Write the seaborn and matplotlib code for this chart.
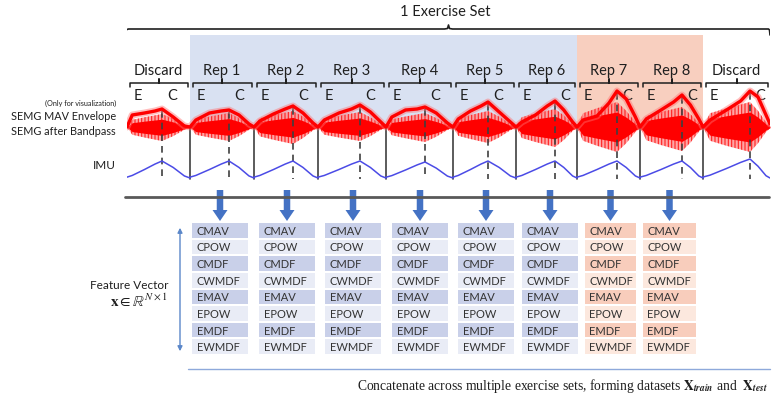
import numpy as np
import matplotlib
matplotlib.use('Agg')
import matplotlib.pyplot as plt
from matplotlib.colors import ListedColormap
import seaborn as sns

sns.set_theme(style='white')
plt.rcParams['font.family'] = ['Lato', 'DejaVu Sans']
plt.rcParams['mathtext.fontset'] = 'stix'
plt.rcParams['hatch.linewidth'] = 0.8

# ---- values ----
segments = ['Discard', 'Rep 1', 'Rep 2', 'Rep 3', 'Rep 4', 'Rep 5', 'Rep 6', 'Rep 7', 'Rep 8', 'Discard']
seg_dur = [6.3, 6.4, 6.4, 6.8, 6.7, 6.3, 6.1, 6.3, 6.3, 6.7]   # rep length
ecc_dur = [3.5, 3.9, 3.9, 4.2, 3.9, 3.5, 3.9, 4.0, 4.2, 4.7]   # time until E -> C switch

# MAV envelope at: start, 15/50/80% of E, C, 40/80% of C, end
env_vals = [
    [0, 12, 14, 16, 18, 10, 1, 0],
    [0, 7, 14, 16, 17, 12, 3, 0],
    [0, 6, 13, 18, 21, 14, 4, 0],
    [0, 7, 14, 18, 22, 15, 5, 0],
    [0, 10, 17, 18, 20, 14, 4, 0],
    [0, 8, 16, 21, 25, 15, 5, 0],
    [0, 5, 12, 21, 26, 17, 5, 0],
    [0, 7, 11, 24, 36, 28, 10, 0],
    [0, 8, 17, 25, 32, 22, 8, 0],
    [0, 7, 17, 26, 36, 30, 12, 3],
]
# bandpassed sEMG burst size (above / below rest line)
burst_up = [13, 14, 16, 15, 14, 16, 18, 25, 20, 25]
burst_down = [14, 14, 17, 14, 15, 16, 20, 25, 24, 25]
burst_shape = [0, 0.55, 0.75, 0.9, 1.0, 0.65, 0.2, 0.05]
# IMU angle
imu_peak = [17, 17, 17, 17, 16, 17, 17, 17, 17, 19]
imu_shape = [0.05, 0.15, 0.5, 0.82, 1.0, 0.62, 0.12, 0.0]

features = ['CMAV', 'CPOW', 'CMDF', 'CWMDF', 'EMAV', 'EPOW', 'EMDF', 'EWMDF']
rep_fatigued = [0, 0, 0, 0, 0, 0, 1, 1]

# ---- layout ----
W, H = 774, 402
fig = plt.figure(figsize=(W / 100, H / 100), dpi=100)
ax = fig.add_axes([0, 0, 1, 1])
ax.set_xlim(0, W)
ax.set_ylim(H, 0)
ax.axis('off')

sig_x0, sig_x1 = 127, 770
sax = fig.add_axes([sig_x0 / W, 0, (sig_x1 - sig_x0) / W, 1])
total = sum(seg_dur)
sax.set_xlim(0, total)
sax.set_ylim(H, 0)
sax.axis('off')
sax.patch.set_alpha(0)

starts = np.concatenate([[0], np.cumsum(seg_dur)[:-1]])
ends = np.cumsum(seg_dur)
c_pos = starts + np.array(ecc_dur)

emg_base, imu_base = 128, 179
txt = '#1f1f1f'

# knot times inside every rep
knot_t = []
for s, e, d in zip(starts, ecc_dur, seg_dur):
    c = d - e
    knot_t.append([s, s + .15 * e, s + .5 * e, s + .8 * e, s + e,
                   s + e + .4 * c, s + e + .8 * c, s + d])
knot_t = np.array(knot_t)

# shaded sample groups
sax.fill_between([starts[1], ends[6]], 36, emg_base, color='#D9E1F2', lw=0, zorder=0)
sax.fill_between([starts[7], ends[8]], 36, emg_base, color='#F8CFBF', lw=0, zorder=0)

# big brace
mid = total / 2
bx = [-0.3, -0.15, 0.15, mid - 0.4, mid - 0.1, mid, mid + 0.1, mid + 0.4, total - 0.15, total - 0.05, total]
by = [36, 31, 30, 30, 29.5, 26, 29.5, 30, 30, 31, 36]
sax.plot(bx, by, color=txt, lw=1.2)
ax.text(445, 12, '1 Exercise Set', ha='center', va='center', fontsize=10.5, color=txt)

# group titles (underlined)
t1 = ax.text(378, 49, 'Non-Fatigued Samples', ha='center', va='center', fontsize=10.5, color=txt)
t2 = ax.text(640, 49, 'Fatigued Samples', ha='center', va='center', fontsize=10.5, color=txt)

# rep brackets and labels
for i, name in enumerate(segments):
    x0, x1 = starts[i] + 0.25, ends[i] - 0.25
    xm = (starts[i] + ends[i]) / 2
    sax.plot([x0, x0, xm, xm, xm, x1, x1], [88, 84, 84, 80, 84, 84, 88], color=txt, lw=1.1)
    sax.text(xm, 71, name, ha='center', va='center', fontsize=10.5, color=txt)
    sax.text(starts[i] + 1.1, 96, 'E', ha='center', va='center', fontsize=10.5, color=txt)
    sax.text(c_pos[i] + 1.0, 96, 'C', ha='center', va='center', fontsize=10.5, color=txt)

# rest line of the sEMG
sns.lineplot(x=[0, total], y=[emg_base, emg_base], ax=sax, color='red', lw=1, zorder=2)

# bandpassed sEMG bursts: faint hatched outer band, solid core
for i in range(len(segments)):
    shp = np.array(burst_shape)
    sax.fill_between(knot_t[i], emg_base - burst_up[i] * shp, emg_base + burst_down[i] * shp,
                     facecolor='#FF9090', edgecolor='#FF0000', hatch='|||||', alpha=0.8, lw=0, zorder=2)
    sax.fill_between(knot_t[i], emg_base - 0.6 * burst_up[i] * shp, emg_base + 0.6 * burst_down[i] * shp,
                     color='#FF0000', lw=0, zorder=2)

# rep boundaries and E/C switch
for b in ends[:-1]:
    sax.plot([b, b], [emg_base + 1, imu_base + 1], color='#404040', lw=1.2, zorder=3)
for i, c in enumerate(c_pos):
    top = emg_base - env_vals[i][4] + 2
    sax.plot([c, c], [top, imu_base + 1], color='#404040', lw=1.2, ls=(0, (4, 3)), zorder=3)

# MAV envelope
env_x = knot_t.ravel()
env_y = emg_base - np.array(env_vals).ravel()
sns.lineplot(x=env_x, y=env_y, ax=sax, sort=False, estimator=None, color='#FF7070', lw=5, alpha=0.45, zorder=4)
sns.lineplot(x=env_x, y=env_y, ax=sax, sort=False, estimator=None, color='#FF0000', lw=2.4, zorder=5)

# IMU
imu_y = (imu_base - np.array(imu_peak)[:, None] * np.array(imu_shape)[None, :]).ravel()
sns.lineplot(x=env_x, y=imu_y, ax=sax, sort=False, estimator=None, color='#4B4BE6', lw=1.1, zorder=4)

# left labels
ax.text(116, 103, '(Only for visualization)', ha='right', va='center', fontsize=5.2, color=txt)
ax.text(116, 116, 'SEMG MAV Envelope', ha='right', va='center', fontsize=7.8, color=txt)
ax.text(116, 132, 'SEMG after Bandpass', ha='right', va='center', fontsize=7.8, color=txt)
ax.text(116, 166, 'IMU', ha='right', va='center', fontsize=8.5, color=txt)

# divider and arrows
ax.plot([125, 769], [198, 198], color='#595959', lw=2, zorder=3)
col_left = [191, 258, 324, 391, 457, 521, 584, 642]
col_w = [58, 58, 58, 58, 58, 58, 53, 55]
tab_top, tab_h = 223, 133
for xl, w in zip(col_left, col_w):
    ax.arrow(xl + w / 2, 191, 0, 31, width=6.5, head_width=15, head_length=11,
             length_includes_head=True, color='#4472C4', lw=0, zorder=2)

# feature table, one heatmap per rep
cmap = ListedColormap(['#C9D0E9', '#E9ECF6', '#F8CDBC', '#FCE8DE'])
labels = np.array(features).reshape(-1, 1)
for j, (xl, w) in enumerate(zip(col_left, col_w)):
    vals = np.array([[2 * rep_fatigued[j] + r % 2] for r in range(len(features))])
    cax = fig.add_axes([xl / W, 1 - (tab_top + tab_h) / H, w / W, tab_h / H])
    sns.heatmap(vals, ax=cax, cmap=cmap, vmin=-0.5, vmax=3.5, cbar=False, annot=labels, fmt='',
                linewidths=1.3, linecolor='white', xticklabels=False, yticklabels=False,
                annot_kws={'fontsize': 8, 'color': '#333333'})
    for t in cax.texts:
        t.set_ha('left')
        t.set_x(0.1)

ax.annotate('', xy=(180, 226), xytext=(180, 355),
            arrowprops=dict(arrowstyle='<|-|>', color='#5B87C9', lw=1, mutation_scale=7))
ax.text(168, 286, 'Feature Vector', ha='right', va='center', fontsize=8.5, color=txt)
ax.text(168, 301, r'$\mathbf{x} \in \mathbb{R}^{N\times 1}$', ha='right', va='center', fontsize=11, color=txt)

ax.plot([188, 770], [370, 370], color='#8EA9DB', lw=1)
ax.text(768, 386, r'Concatenate across multiple exercise sets, forming datasets $\mathbf{X}_{\mathbfit{train}}$ and  $\mathbf{X}_{\mathbfit{test}}$',
        ha='right', va='center', fontsize=9.8, color=txt, family='Liberation Serif')

# underline the group titles
fig.canvas.draw()
rend = fig.canvas.get_renderer()
inv = ax.transData.inverted()
for t in (t1, t2):
    bb = t.get_window_extent(rend)
    (xa, ya), (xb, yb) = inv.transform([[bb.x0, bb.y0], [bb.x1, bb.y1]])
    ax.plot([xa, xb], [ya - 1, ya - 1], color=txt, lw=0.9)

fig.savefig('out.png', dpi=100)
